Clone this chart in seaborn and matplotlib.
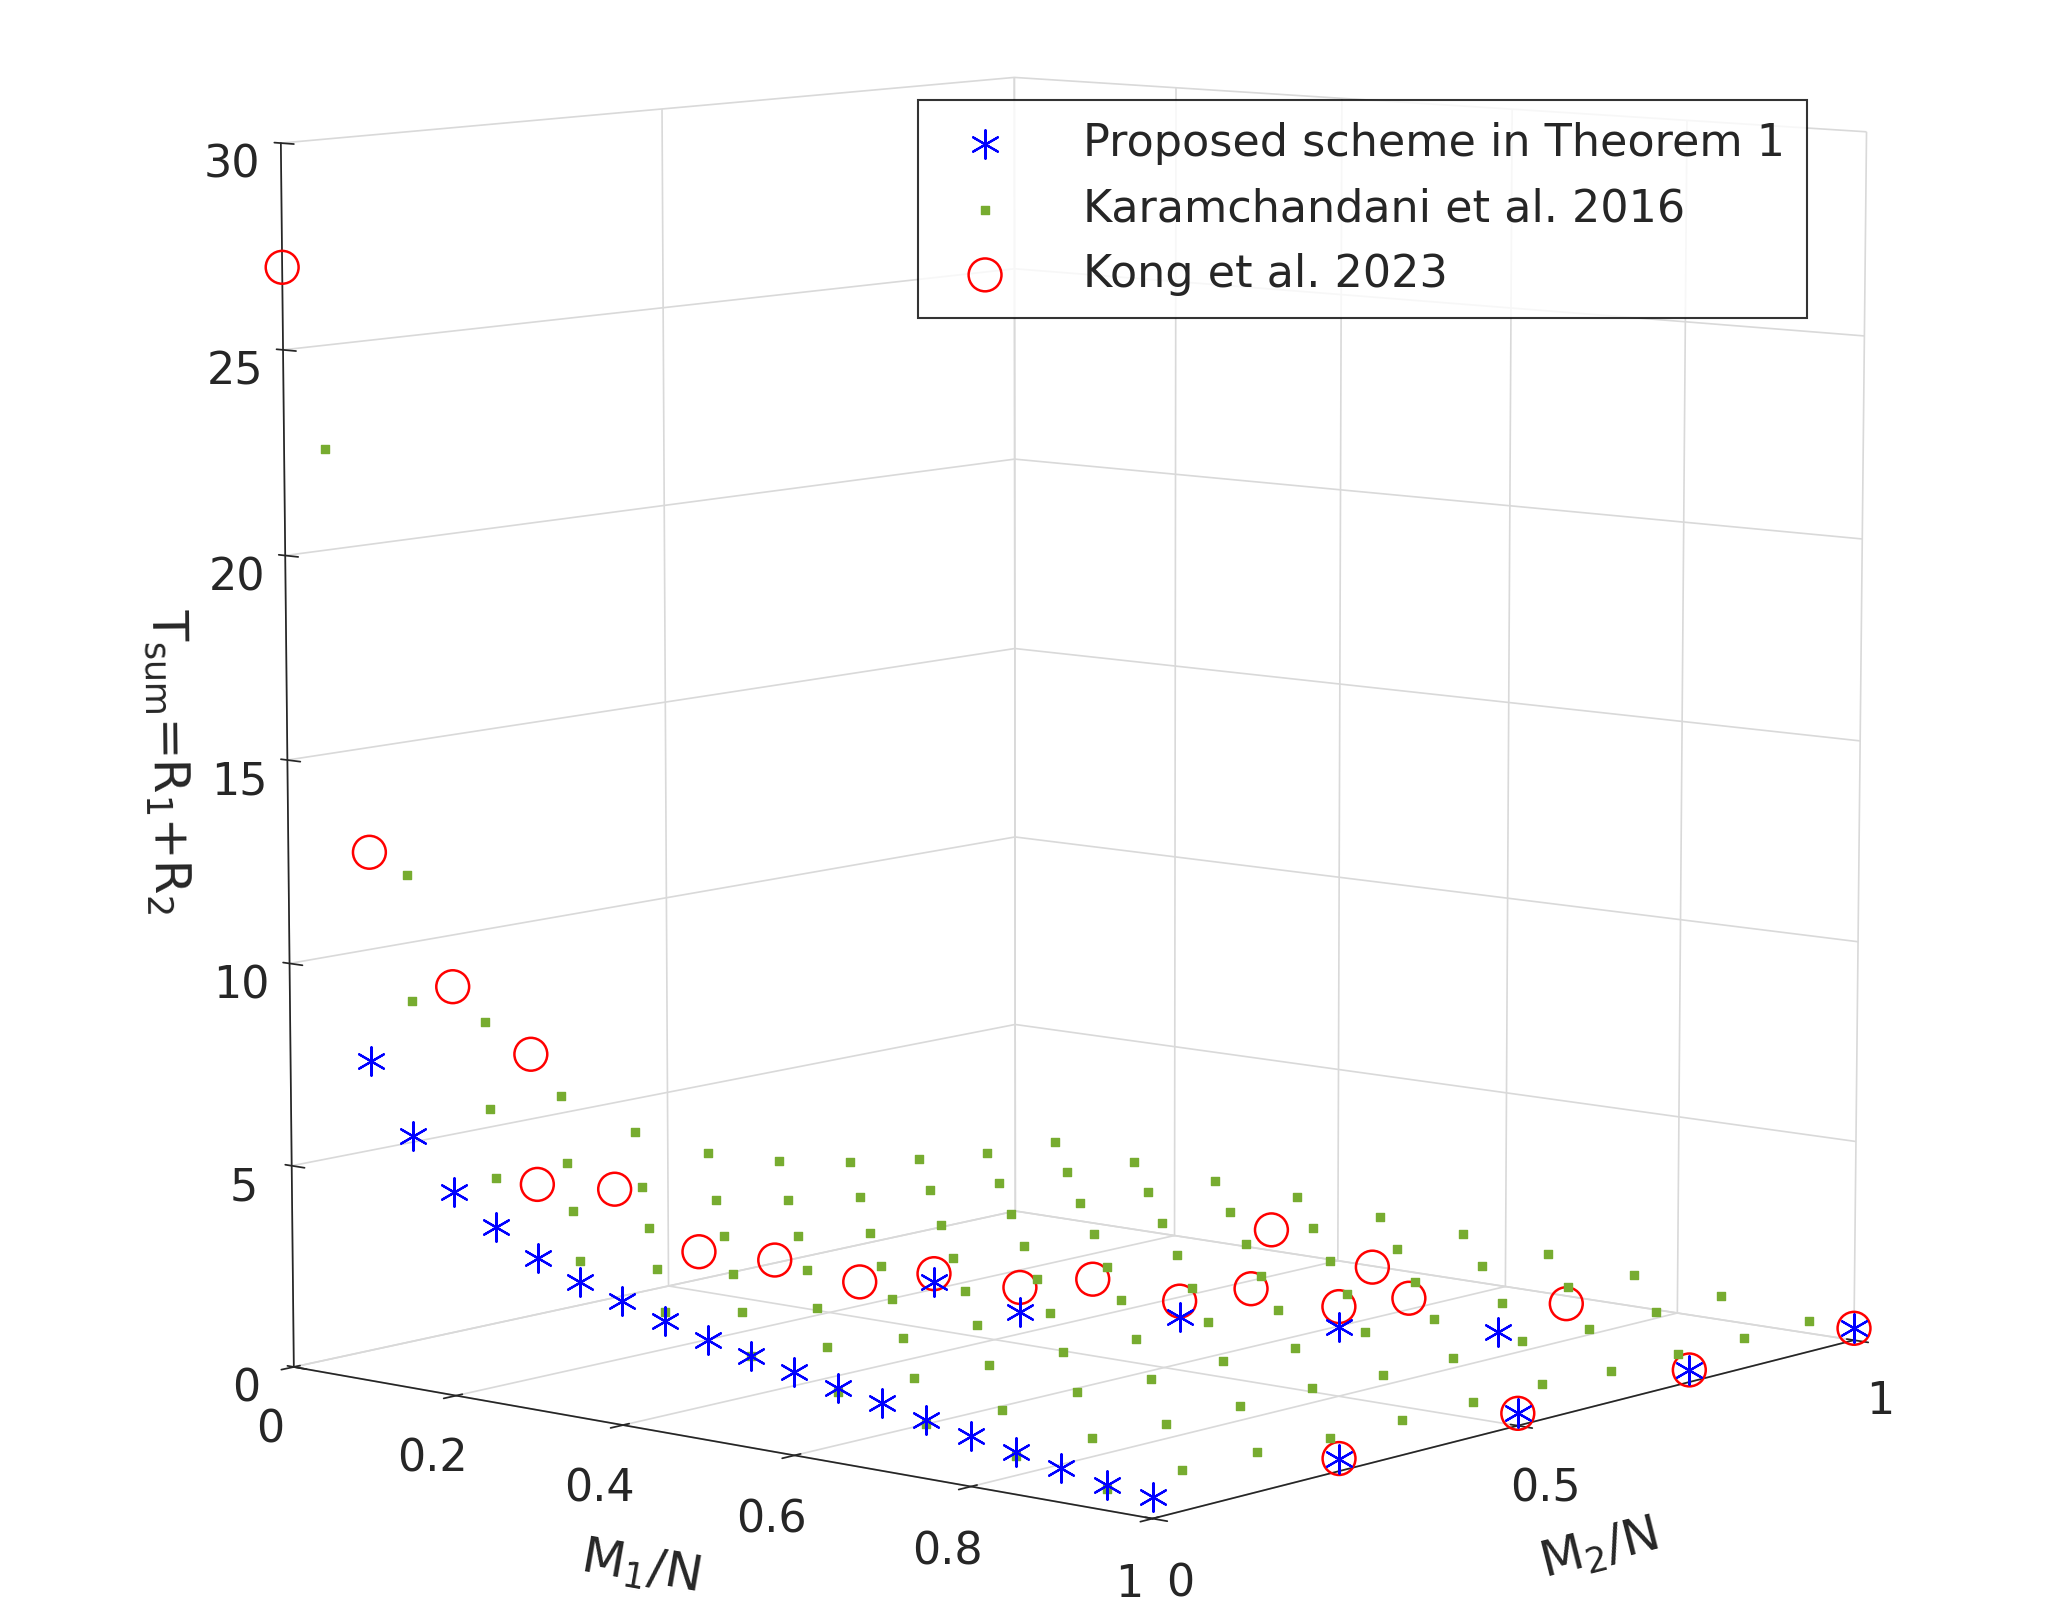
"""3D scatter of total rate T_sum versus normalized cache sizes M1/N, M2/N."""
import matplotlib
matplotlib.use("Agg")
import matplotlib.pyplot as plt
import numpy as np
import seaborn as sns

sns.set_theme(style="white")
plt.rcParams["mathtext.default"] = "regular"

# Karamchandani et al. 2016: rows of fixed M1/N, columns of M2/N
kar_m1 = [0.05, 0.15, 0.25, 0.35, 0.45, 0.55, 0.65, 0.75, 0.85, 0.95]
kar_m2 = [0.0, 0.1, 0.2, 0.3, 0.4, 0.5, 0.6, 0.7, 0.8, 0.9, 1.0]
kar_t = [
    [22.7, 12.0, 8.0, 5.8, 4.5, 3.6, 3.0, 2.6, 2.3, 2.1, 2.0],
    [9.5, 6.5, 4.8, 3.8, 3.1, 2.7, 2.4, 2.2, 2.0, 1.9, 1.8],
    [5.5, 4.3, 3.5, 2.9, 2.5, 2.2, 2.0, 1.9, 1.8, 1.7, 1.6],
    [3.8, 3.2, 2.7, 2.4, 2.1, 1.9, 1.8, 1.7, 1.6, 1.5, 1.5],
    [2.9, 2.5, 2.2, 2.0, 1.8, 1.7, 1.6, 1.5, 1.4, 1.4, 1.3],
    [2.2, 2.0, 1.8, 1.7, 1.6, 1.5, 1.4, 1.3, 1.3, 1.2, 1.2],
    [1.7, 1.6, 1.5, 1.4, 1.3, 1.3, 1.2, 1.2, 1.1, 1.1, 1.0],
    [1.3, 1.2, 1.2, 1.1, 1.1, 1.0, 1.0, 0.9, 0.9, 0.9, 0.8],
    [0.9, 0.9, 0.8, 0.8, 0.8, 0.7, 0.7, 0.7, 0.6, 0.6, 0.6],
    [0.5, 0.5, 0.5, 0.4, 0.4, 0.4, 0.4, 0.3, 0.3, 0.3, 0.3],
]

# Proposed scheme in Theorem 1
prop_m1 = [0.1, 0.15, 0.2, 0.25, 0.3, 0.35, 0.4, 0.45, 0.5, 0.55, 0.6, 0.65,
           0.7, 0.75, 0.8, 0.85, 0.9, 0.95, 1.0, 1.0, 1.0, 1.0, 1.0,
           0.5, 0.6, 0.7, 0.8, 0.9]
prop_m2 = [0.0, 0.0, 0.0, 0.0, 0.0, 0.0, 0.0, 0.0, 0.0, 0.0, 0.0, 0.0,
           0.0, 0.0, 0.0, 0.0, 0.0, 0.0, 0.0, 0.25, 0.5, 0.75, 1.0,
           0.3, 0.3, 0.4, 0.5, 0.6]
prop_t = [7.9, 6.2, 5.0, 4.3, 3.7, 3.3, 3.0, 2.7, 2.4, 2.2, 2.0, 1.8,
          1.6, 1.4, 1.2, 1.0, 0.8, 0.6, 0.5, 0.3, 0.3, 0.3, 0.3,
          2.6, 2.2, 2.0, 1.7, 1.5]

# Kong et al. 2023
kong_m1 = [0.0, 0.1, 0.2, 0.2, 0.3, 0.3, 0.4, 0.4, 0.5, 0.5, 0.6, 0.6,
           0.7, 0.7, 0.8, 0.8, 0.9, 1.0, 1.0, 1.0, 1.0, 0.6, 0.4]
kong_m2 = [0.0, 0.0, 0.0, 0.1, 0.0, 0.1, 0.1, 0.2, 0.2, 0.3, 0.3, 0.4,
           0.4, 0.5, 0.5, 0.6, 0.7, 0.25, 0.5, 0.75, 1.0, 0.8, 0.9]
kong_t = [27.0, 13.0, 10.0, 8.0, 5.5, 5.0, 3.8, 3.2, 3.0, 2.8, 2.8, 2.6,
          2.4, 2.3, 2.2, 2.0, 1.8, 0.3, 0.3, 0.3, 0.3, 1.3, 1.2]

kar_x, kar_y = np.meshgrid(kar_m1, kar_m2, indexing="ij")

fig = plt.figure(figsize=(20.64, 16.18), dpi=100)
ax = fig.add_axes([-0.06, -0.08, 1.14, 1.2], projection="3d")
ax.view_init(elev=8, azim=-50)
ax.set_box_aspect((1.0, 1.0, 1.1))

ax.scatter(prop_m1, prop_m2, prop_t, marker=(6, 2, 0), s=420, color="#0000ff",
           linewidths=1.6, depthshade=False, label="Proposed scheme in Theorem 1")
ax.scatter(kar_x.ravel(), kar_y.ravel(), np.array(kar_t).ravel(), marker="s",
           s=40, color="#77ac30", depthshade=False,
           label="Karamchandani et al. 2016")
ax.scatter(kong_m1, kong_m2, kong_t, marker="o", s=560, facecolors="none",
           edgecolors="#ff0000", linewidths=1.8, depthshade=False,
           label="Kong et al. 2023")

ax.set_xlim(0, 1)
ax.set_ylim(0, 1)
ax.set_zlim(0, 30)
ax.set_xticks([0, 0.2, 0.4, 0.6, 0.8, 1])
ax.set_xticklabels(["0", "0.2", "0.4", "0.6", "0.8", "1"])
ax.set_yticks([0, 0.5, 1])
ax.set_yticklabels(["0", "0.5", "1"])
ax.set_zticks([0, 5, 10, 15, 20, 25, 30])
ax.tick_params(labelsize=32, colors="#262626", pad=14)

# put the vertical axis on the left-hand edge, as in MATLAB
ax.zaxis._axinfo["juggled"] = (1, 2, 0)

ax.set_xlabel("M$_1$/N", fontsize=36, labelpad=44)
ax.set_ylabel("M$_2$/N", fontsize=36, labelpad=44)
ax.set_zlabel("T$_{sum}$=R$_1$+R$_2$", fontsize=36, labelpad=34)

for axis in (ax.xaxis, ax.yaxis, ax.zaxis):
    axis.set_pane_color((1, 1, 1, 0))
    axis._axinfo["grid"]["color"] = "#d9d9d9"
    axis._axinfo["grid"]["linewidth"] = 1.2

leg = ax.legend(loc="upper right", bbox_to_anchor=(0.9, 0.86), fontsize=32,
                frameon=True, fancybox=False, edgecolor="black",
                handletextpad=1.2, borderpad=0.5)
leg.get_frame().set_linewidth(1.5)

fig.savefig("out.png", dpi=100)
